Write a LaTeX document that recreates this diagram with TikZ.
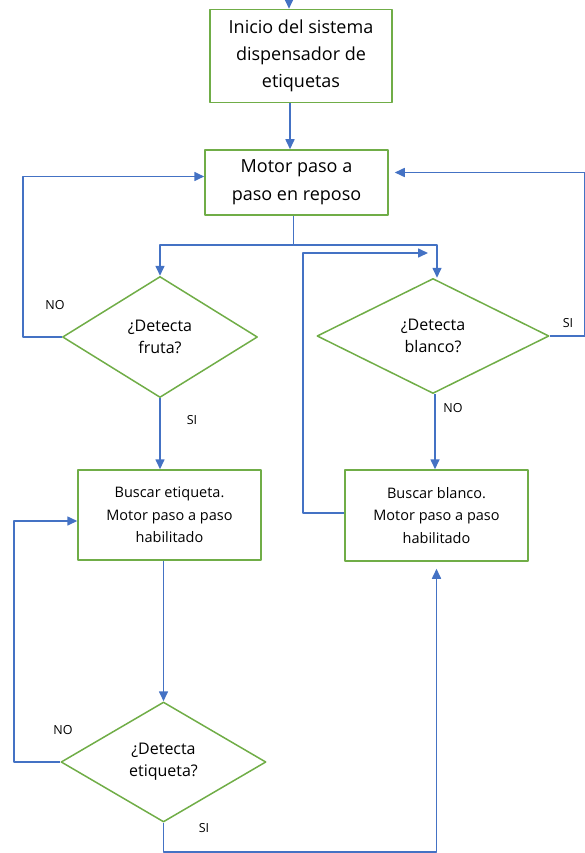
\documentclass[tikz,border=0pt]{standalone}
\usepackage{fontspec}
\setmainfont{Open Sans}
\usetikzlibrary{shapes.geometric,arrows.meta}
\definecolor{verde}{RGB}{112,173,71}
\definecolor{azul}{RGB}{68,114,196}
\begin{document}
\begin{tikzpicture}[x=1pt, y=-1pt, line join=round, >={Triangle[length=10pt,width=9pt]},
	caja/.style={draw=verde, line width=1.5pt, align=center, inner sep=2pt},
	rombo/.style={diamond, draw=verde, line width=1.5pt, align=center, inner sep=0pt, font=\fontsize{16}{22}\selectfont},
	flecha/.style={draw=azul, line width=1.6pt},
	etiq/.style={font=\fontsize{12.5}{14}\selectfont}]
	\useasboundingbox (0,0) rectangle (585,853);
	% cajas
	\node[caja, minimum width=182pt, minimum height=93pt, font=\fontsize{18}{27}\selectfont] (ini) at (301,56) {Inicio del sistema\\dispensador de\\etiquetas};
	\node[caja, minimum width=183pt, minimum height=65pt, font=\fontsize{18}{28}\selectfont] (motor) at (296.5,182.5) {Motor paso a\\paso en reposo};
	\node[caja, minimum width=183pt, minimum height=90pt, font=\fontsize{14.5}{22.5}\selectfont] (buscaE) at (169.5,515) {Buscar etiqueta.\\Motor paso a paso\\habilitado};
	\node[caja, minimum width=183pt, minimum height=91pt, font=\fontsize{14.5}{22.5}\selectfont] (buscaB) at (436.5,515.5) {Buscar blanco.\\Motor paso a paso\\habilitado};
	% decisiones
	\node[rombo, minimum width=195pt, minimum height=121pt] (fruta) at (160,337) {¿Detecta\\fruta?};
	\node[rombo, minimum width=232pt, minimum height=115pt] (blanco) at (433,336) {¿Detecta\\blanco?};
	\node[rombo, minimum width=205pt, minimum height=120pt] (etiqueta) at (163.5,762) {¿Detecta\\etiqueta?};
	\coordinate (entrada) at (289,-4);
	\coordinate (retorno) at (428,253);
	% conectores
	\draw[flecha, ->] (entrada) -- (entrada |- ini.north);
	\draw[flecha, ->] ([xshift=-11pt]ini.south) -- ([xshift=-11pt]ini.south |- motor.north);
	\draw[flecha, ->] ([xshift=-3pt]motor.south) -- ++(0,29) -| (fruta.north);
	\draw[flecha, ->] ([xshift=-3pt]motor.south) -- ++(0,29) -| ([xshift=4pt]blanco.north);
	\draw[flecha, ->] (fruta.west) -- ++(-39,0) |- ([yshift=6pt]motor.west);
	\draw[flecha, ->] (fruta.south) -- (fruta.south |- buscaE.north);
	\draw[flecha, ->] (etiqueta.north |- buscaE.south) -- (etiqueta.north);
	\draw[flecha, ->] (etiqueta.west) -- ++(-46,0) |- ([yshift=-6pt]buscaE.west);
	\draw[flecha, ->, shorten >=7pt] (etiqueta.south) -- ++(0,29) -| (buscaB.south);
	\draw[flecha, ->] ([xshift=2pt]blanco.south) -- ([xshift=2pt]blanco.south |- buscaB.north);
	\draw[flecha, ->, shorten >=6pt] (blanco.east) -- ++(35,0) |- ([yshift=10pt]motor.east);
	\draw[flecha, ->] ([yshift=2.5pt]buscaB.west) -- ++(-41,0) |- (retorno);
	% etiquetas
	\node[etiq] (no1) at (55,305) {NO};
	\node[etiq] (si1) at (192,420) {SI};
	\node[etiq] (no2) at (453,408) {NO};
	\node[etiq] (si2) at (568,323) {SI};
	\node[etiq] (no3) at (63,730) {NO};
	\node[etiq] (si3) at (204,828) {SI};
\end{tikzpicture}
\end{document}
